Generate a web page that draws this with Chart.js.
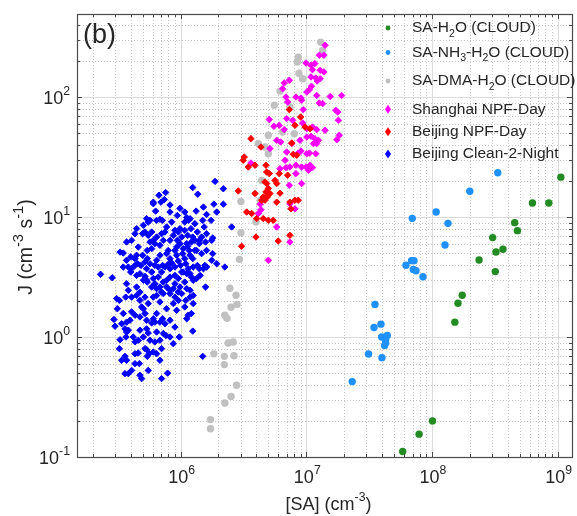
<!DOCTYPE html>
<html>
<head>
<meta charset="utf-8">
<script src="https://cdn.jsdelivr.net/npm/chart.js@4.4.0/dist/chart.umd.min.js"></script>
<style>
  body { margin: 0; background: #fff; }
  #wrap { width: 577px; height: 516px; }
</style>
</head>
<body>
<div id="wrap"><canvas id="chart" width="577" height="516"></canvas></div>
<script>
// values: [SA (cm-3), J (cm-3 s-1)]
const saH2O = [
  [1.06e9, 21.5], [6.3e8, 13.1], [8.5e8, 13.1], [4.55e8, 8.98], [4.78e8, 7.7], [3.04e8, 6.74],
  [3.23e8, 5.11], [3.67e8, 5.38], [2.37e8, 4.38], [3.19e8, 3.51], [1.74e8, 2.23], [1.61e8, 1.91],
  [1.52e8, 1.33], [1.01e8, 0.2], [7.9e7, 0.155], [5.85e7, 0.111]
];
const saNH3H2O = [
  [3.34e8, 23.4], [2.0e8, 16.4], [1.08e8, 11.0], [1.34e8, 8.86], [6.97e7, 9.75], [1.27e8, 5.84],
  [6.21e7, 3.96], [6.88e7, 4.33], [7.19e7, 4.33], [7.1e7, 3.65], [7.46e7, 3.57], [8.48e7, 3.18],
  [3.52e7, 1.87], [3.93e7, 1.28], [3.46e7, 1.2], [3.98e7, 1.0], [4.41e7, 1.03], [4.28e7, 0.944],
  [4.28e7, 0.89], [4.2e7, 0.848], [3.13e7, 0.722], [4.0e7, 0.673], [2.32e7, 0.425]
];
const saDMAH2O = [
  [1.30e7, 287], [1.35e7, 245], [8.63e6, 215], [8.48e6, 196], [8.75e6, 158], [9.36e6, 142],
  [6.18e6, 112], [5.56e6, 85.3], [7.41e6, 82.5], [6.49e6, 51.1], [8.03e6, 49.5], [4.99e6, 48],
  [4.15e6, 40.9], [4.69e6, 38.3], [4.99e6, 33.7], [4.42e6, 20.2], [3.02e6, 13.5], [4.33e6, 13.8],
  [3.98e6, 9.08], [3.02e6, 7.41], [2.94e6, 4.44], [2.47e6, 2.55], [2.76e6, 2.23], [2.81e6, 1.87],
  [2.52e6, 1.77], [2.25e6, 1.52], [2.34e6, 1.43], [2.39e6, 0.891], [2.62e6, 0.908], [1.84e6, 0.724],
  [2.23e6, 0.69], [2.66e6, 0.697], [2.23e6, 0.589], [2.79e6, 0.396], [2.52e6, 0.32], [2.25e6, 0.282],
  [1.73e6, 0.205], [1.73e6, 0.172]
];
const shanghaiNPF = [
  [1.41e7, 270], [1.38e7, 223], [1.27e7, 223], [9.95e6, 192], [1.09e7, 184], [1.17e7, 190],
  [1.12e7, 169], [1.29e7, 167], [1.38e7, 162], [1.09e7, 147], [1.19e7, 144], [1.29e7, 142],
  [1.22e7, 136], [7.33e6, 138], [6.68e6, 131], [6.49e6, 117], [1.10e7, 123], [1.06e7, 115],
  [1.01e7, 110], [8.28e6, 100], [9.08e6, 98.1], [6.90e6, 100], [7.11e6, 90.8], [1.21e7, 103],
  [1.55e7, 101], [1.91e7, 103], [1.27e7, 89.1], [1.35e7, 88.1], [1.72e7, 77.4], [1.78e7, 75.0],
  [1.80e7, 64.0], [9.18e6, 93.9], [9.46e6, 78.5], [7.80e6, 64.0], [6.98e6, 66.1], [5.08e6, 64.9],
  [5.53e6, 57.0], [6.10e6, 58.1], [6.68e6, 53.5], [9.36e6, 60.7], [1.01e7, 54.5], [1.12e7, 56.2],
  [1.21e7, 53.5], [1.41e7, 52.8], [1.09e7, 47.1], [1.17e7, 45.0], [1.14e7, 40.9], [1.21e7, 40.9],
  [1.25e7, 43.6], [1.75e7, 44.1], [1.83e7, 48.0], [1.01e7, 46.4], [5.82e6, 43.6], [6.25e6, 42.2],
  [8.91e6, 43.6], [5.14e6, 37.2], [7.66e6, 40.9], [3.63e6, 28.2], [6.98e6, 34.8], [8.63e6, 34.1],
  [9.08e6, 35.5], [1.01e7, 33.7], [1.06e7, 34.1], [1.19e7, 33.7], [6.78e6, 29.7], [7.41e6, 26.1],
  [8.28e6, 27.0], [9.18e6, 26.1], [6.90e6, 25.8], [9.95e6, 26.1], [1.07e7, 27.0], [1.04e7, 24.5],
  [1.12e7, 25.8], [6.18e6, 25.3], [8.28e6, 23.0], [9.18e6, 19.0], [7.33e6, 18.4], [8.13e6, 11.7],
  [7.41e6, 12.9], [4.36e6, 11.5], [4.29e6, 12.8], [4.15e6, 10.7], [5.82e6, 8.26], [7.41e6, 6.19],
  [4.99e6, 4.36]
];
const beijingNPF = [
  [7.33e6, 78.5], [9.02e6, 68.1], [8.13e6, 58.1], [9.77e6, 56.2], [1.07e7, 54.5], [3.63e6, 45.0],
  [4.36e6, 38.3], [7.66e6, 41.4], [7.88e6, 33.3], [3.21e6, 31.6], [3.15e6, 29.7], [3.46e6, 26.1],
  [3.91e6, 27.0], [4.78e6, 27.0], [4.84e6, 23.7], [5.08e6, 23.0], [4.69e6, 19.6], [4.84e6, 19.0],
  [5.64e6, 20.2], [5.82e6, 19.0], [6.10e6, 23.0], [7.11e6, 22.3], [8.40e6, 32.7], [2.88e6, 16.5],
  [4.99e6, 17.3], [4.78e6, 16.2], [4.55e6, 14.7], [4.90e6, 14.7], [5.14e6, 15.7], [6.18e6, 15.8],
  [5.82e6, 13.3], [3.91e6, 15.7], [4.42e6, 13.8], [4.69e6, 13.8], [3.36e6, 11.0], [3.68e6, 10.7],
  [4.03e6, 9.7], [4.55e6, 9.7], [4.99e6, 9.39], [5.46e6, 9.39], [7.41e6, 13.3], [8.13e6, 13.8],
  [7.55e6, 11.7], [8.63e6, 13.8], [3.98e6, 6.81], [5.98e6, 6.31], [7.41e6, 7.04], [3.06e6, 5.70]
];
const beijingClean = [
  [1.25e6, 17.6], [1.37e6, 15.5], [1.88e6, 19.8], [2.19e6, 17.2], [6.73e5, 15.2], [7.6e5, 16.0],
  [6.07e5, 13.3], [6.98e5, 13.3], [7.43e5, 14.0], [1.84e6, 12.8], [2.19e6, 12.8],
  [6.33e5, 11.2], [8.24e5, 11.0], [9.42e5, 10.3], [9.89e5, 11.8], [1.12e6, 9.89], [1.16e6, 9.38],
  [1.33e6, 11.2], [1.50e6, 9.38], [1.75e6, 9.38], [5.37e5, 9.69], [5.53e5, 9.08], [5.71e5, 9.38],
  [6.45e5, 9.38], [6.85e5, 9.57], [7.16e5, 9.38], [8.49e5, 9.08], [1.08e6, 9.08], [1.19e6, 9.69],
  [2.55e6, 8.26],
  [4.34e5, 7.26], [4.99e5, 7.26], [5.21e5, 7.5], [5.53e5, 7.03], [5.89e5, 7.5], [6.07e5, 6.39],
  [6.45e5, 6.81], [7.06e5, 7.26], [7.51e5, 7.5], [9.02e5, 7.74], [9.89e5, 8.0], [1.02e6, 6.81],
  [1.08e6, 7.74], [1.14e6, 7.03], [1.21e6, 8.0], [1.36e6, 7.5], [1.41e6, 6.39], [1.54e6, 8.26],
  [1.61e6, 7.26], [1.80e6, 6.68], [5.71e5, 6.19], [5.89e5, 5.45], [6.25e5, 6.0], [6.85e5, 5.81],
  [7.29e5, 6.39], [8.24e5, 6.39], [9.42e5, 6.39], [9.89e5, 6.0], [1.12e6, 6.0], [1.22e6, 6.19],
  [1.30e6, 6.39], [1.41e6, 6.0], [1.58e6, 6.19], [1.77e6, 6.39],
  [3.50e5, 5.01], [3.72e5, 4.36], [4.01e5, 4.65], [4.34e5, 4.50], [4.47e5, 4.80], [4.55e5, 4.08],
  [4.99e5, 4.80], [5.43e5, 5.27], [5.43e5, 4.50], [6.45e5, 4.36], [6.85e5, 4.80], [7.74e5, 4.95],
  [7.98e5, 5.27], [8.24e5, 4.50], [9.02e5, 5.27], [9.31e5, 4.80], [1.04e6, 4.95], [1.08e6, 4.50],
  [1.17e6, 5.27], [1.19e6, 4.80], [1.25e6, 4.50], [1.30e6, 5.27], [1.47e6, 4.95], [1.61e6, 3.83],
  [1.80e6, 4.95], [1.94e6, 4.08], [2.25e6, 3.83], [3.50e5, 3.83], [3.84e5, 3.83], [4.08e5, 3.71],
  [4.34e5, 3.95], [4.84e5, 3.95], [5.21e5, 4.22], [5.71e5, 4.08], [6.25e5, 3.95], [6.65e5, 3.83],
  [7.20e5, 3.95], [7.51e5, 3.83], [7.98e5, 4.04], [8.49e5, 4.14], [9.59e5, 4.30], [1.00e6, 3.95],
  [1.10e6, 4.08], [1.15e6, 3.71], [1.26e6, 3.83], [1.36e6, 3.95], [1.52e6, 3.71], [1.56e6, 3.95],
  [2.31e5, 3.33], [2.86e5, 3.12], [4.01e5, 3.48], [4.47e5, 3.26], [4.75e5, 3.37], [5.21e5, 3.20],
  [5.37e5, 2.97], [6.07e5, 3.07], [6.65e5, 3.16], [7.06e5, 3.48], [7.29e5, 2.87], [7.74e5, 2.97],
  [8.24e5, 3.16], [9.02e5, 3.26], [9.59e5, 3.07], [1.02e6, 3.48], [1.12e6, 3.37], [1.22e6, 3.16],
  [1.26e6, 2.97], [1.34e6, 3.07], [1.43e6, 3.26], [1.58e6, 2.61], [5.43e5, 2.87], [5.89e5, 2.61],
  [6.45e5, 2.53], [6.85e5, 2.61], [7.06e5, 2.37], [7.74e5, 2.61], [8.24e5, 2.45], [9.02e5, 2.78],
  [9.59e5, 2.37], [9.89e5, 2.61], [1.08e6, 2.87], [1.12e6, 2.53], [1.19e6, 2.45],
  [3.10e5, 2.09], [3.26e5, 2.02], [3.66e5, 2.15], [3.84e5, 2.45], [4.08e5, 2.15], [4.47e5, 2.22],
  [4.75e5, 2.02], [4.90e5, 1.78], [5.53e5, 1.90], [5.21e5, 2.15], [6.45e5, 2.22], [7.29e5, 2.30],
  [8.24e5, 2.30], [9.02e5, 2.15], [8.75e5, 1.90], [9.59e5, 2.02], [1.10e6, 2.02], [1.19e6, 2.15],
  [1.26e6, 2.22], [1.08e6, 1.78], [1.26e6, 1.90],
  [3.14e5, 1.72], [2.95e5, 1.40], [3.01e5, 1.23], [3.40e5, 1.29], [3.72e5, 1.33], [3.96e5, 1.38],
  [4.08e5, 1.62], [4.34e5, 1.52], [5.06e5, 1.72], [5.21e5, 1.57], [5.37e5, 1.38], [5.89e5, 1.31],
  [6.07e5, 1.42], [6.25e5, 1.33], [6.85e5, 1.33], [7.20e5, 1.42], [7.51e5, 1.29], [9.02e5, 1.21],
  [1.12e6, 1.42], [1.15e6, 1.52], [1.22e6, 1.57],
  [3.61e5, 1.17], [3.72e5, 1.10], [3.84e5, 1.14], [3.30e5, 0.95], [3.68e5, 1.00], [4.34e5, 0.91],
  [4.61e5, 0.94], [5.37e5, 1.17], [5.53e5, 1.08], [6.45e5, 1.10], [5.71e5, 0.94], [6.25e5, 0.91],
  [6.85e5, 0.94], [7.29e5, 1.07], [7.65e5, 1.03], [8.75e5, 0.88], [9.77e5, 1.00], [1.25e6, 1.12],
  [3.26e5, 0.80], [3.61e5, 0.69], [3.72e5, 0.64], [4.34e5, 0.60], [4.70e5, 0.60], [4.61e5, 0.736],
  [5.21e5, 0.80], [5.37e5, 0.785], [5.64e5, 0.726], [6.07e5, 0.75], [6.45e5, 0.726], [7.06e5, 0.80],
  [5.43e5, 0.69], [3.61e5, 0.495], [3.84e5, 0.495], [4.90e5, 0.45], [4.75e5, 0.48], [7.06e5, 0.45],
  [7.89e5, 0.50], [1.50e6, 0.69],
  [7.74e5, 8.26], [8.75e5, 7.03], [9.59e5, 7.5], [1.25e6, 6.81], [1.30e6, 8.8], [1.47e6, 6.81],
  [9.31e5, 5.62], [1.05e6, 5.45], [1.14e6, 5.7], [1.34e6, 5.27], [1.61e6, 5.27], [8.24e5, 3.71],
  [9.02e5, 3.83], [1.05e6, 3.48], [1.19e6, 3.37], [1.41e6, 3.71], [1.77e6, 4.36], [5.37e5, 3.71],
  [5.89e5, 3.48], [5.06e5, 2.97], [6.25e5, 2.78], [8.75e5, 2.53], [1.02e6, 2.30], [4.47e5, 2.61],
  [3.72e5, 2.78], [4.75e5, 2.37], [6.07e5, 2.15], [6.85e5, 1.96], [7.74e5, 1.72], [9.31e5, 1.67],
  [6.45e5, 1.57], [4.75e5, 1.47], [3.50e5, 1.57], [8.24e5, 1.38], [4.75e5, 1.14], [4.2e5, 1.00],
  [5.06e5, 1.00], [8.24e5, 1.00], [4.34e5, 0.726], [6.85e5, 0.64], [3.40e5, 0.64], [4.08e5, 0.527],
  [5.53e5, 0.527], [6.07e5, 12.9], [8.24e5, 12.6], [1.52e6, 12.1], [1.61e6, 10.5], [1.94e6, 11.0],
  [1.08e6, 11.0], [5.06e5, 8.53], [4.47e5, 8.0], [4.08e5, 6.39], [4.61e5, 5.62], [3.72e5, 6.19],
  [3.30e5, 5.1]
];

const seriesLabels = [
  [['SA-H', 0], ['2', -1], ['O (CLOUD)', 0]],
  [['SA-NH', 0], ['3', -1], ['-H', 0], ['2', -1], ['O (CLOUD)', 0]],
  [['SA-DMA-H', 0], ['2', -1], ['O (CLOUD)', 0]],
  [['Shanghai NPF-Day', 0]],
  [['Beijing NPF-Day', 0]],
  [['Beijing Clean-2-Night', 0]]
];
const seriesColors = ['#228b22', '#1e90ff', '#c0c0c0', '#ff00ff', '#ff0000', '#0000ff'];
const seriesShapes = ['circle', 'circle', 'circle', 'rectRot', 'rectRot', 'rectRot'];

const xDecades = [5, 6, 7, 8, 9];
const yDecades = [-1, 0, 1, 2];
const xTickExp = [6, 7, 8, 9];
const yTickExp = [-1, 0, 1, 2];

const FONT = '"Liberation Sans", Arial, Helvetica, sans-serif';
const TXT = '#262626';

// draws text made of pieces: [text, 0 normal | 1 superscript | -1 subscript]
function drawRich(ctx, parts, x, y, size, align, supScale) {
  const ss = supScale || 0.68;
  let w = 0;
  parts.forEach(p => {
    ctx.font = (p[1] ? size * ss : size) + 'px ' + FONT;
    w += ctx.measureText(p[0]).width;
  });
  let cx = align === 'center' ? x - w / 2 : (align === 'right' ? x - w : x);
  ctx.textAlign = 'left';
  ctx.textBaseline = 'middle';
  ctx.fillStyle = TXT;
  parts.forEach(p => {
    const s = p[1] ? size * ss : size;
    ctx.font = s + 'px ' + FONT;
    const dy = p[1] === 1 ? -size * 0.42 : (p[1] === -1 ? size * 0.38 : 0);
    ctx.fillText(p[0], cx, y + dy);
    cx += ctx.measureText(p[0]).width;
  });
}

function marker(ctx, shape, x, y, r, color) {
  ctx.fillStyle = color;
  ctx.beginPath();
  if (shape === 'circle') {
    ctx.arc(x, y, r, 0, Math.PI * 2);
  } else {
    ctx.moveTo(x, y - r * 1.25);
    ctx.lineTo(x + r * 0.85, y);
    ctx.lineTo(x, y + r * 1.25);
    ctx.lineTo(x - r * 0.85, y);
    ctx.closePath();
  }
  ctx.fill();
}

const axesPlugin = {
  id: 'matlabAxes',
  beforeDatasetsDraw(chart) {
    const {ctx, chartArea: a, scales: {x, y}} = chart;
    ctx.save();
    ctx.lineWidth = 1;
    // minor grid, dotted
    ctx.strokeStyle = '#c6c6c6';
    ctx.setLineDash([1, 2]);
    ctx.beginPath();
    xDecades.forEach(e => {
      for (let k = 2; k <= 9; k++) {
        const v = k * Math.pow(10, e);
        if (v <= x.min || v >= x.max) continue;
        const px = Math.round(x.getPixelForValue(v)) + 0.5;
        ctx.moveTo(px, a.top); ctx.lineTo(px, a.bottom);
      }
    });
    yDecades.forEach(e => {
      for (let k = 2; k <= 9; k++) {
        const v = k * Math.pow(10, e);
        if (v <= y.min || v >= y.max) continue;
        const py = Math.round(y.getPixelForValue(v)) + 0.5;
        ctx.moveTo(a.left, py); ctx.lineTo(a.right, py);
      }
    });
    ctx.stroke();
    // major grid, solid
    ctx.setLineDash([]);
    ctx.strokeStyle = '#dcdcdc';
    ctx.beginPath();
    xDecades.forEach(e => {
      const v = Math.pow(10, e);
      if (v <= x.min || v >= x.max) return;
      const px = Math.round(x.getPixelForValue(v)) + 0.5;
      ctx.moveTo(px, a.top); ctx.lineTo(px, a.bottom);
    });
    yDecades.forEach(e => {
      const v = Math.pow(10, e);
      if (v <= y.min || v >= y.max) return;
      const py = Math.round(y.getPixelForValue(v)) + 0.5;
      ctx.moveTo(a.left, py); ctx.lineTo(a.right, py);
    });
    ctx.stroke();
    ctx.restore();
  },
  afterDraw(chart) {
    const {ctx, chartArea: a, scales: {x, y}} = chart;
    ctx.save();
    // ticks on all four sides, pointing in
    ctx.strokeStyle = '#4a4a4a';
    ctx.lineWidth = 1;
    ctx.beginPath();
    xDecades.forEach(e => {
      for (let k = 1; k <= 9; k++) {
        const v = k * Math.pow(10, e);
        if (v <= x.min || v >= x.max) continue;
        const len = k === 1 ? 5 : 3;
        const px = Math.round(x.getPixelForValue(v)) + 0.5;
        ctx.moveTo(px, a.bottom); ctx.lineTo(px, a.bottom - len);
        ctx.moveTo(px, a.top); ctx.lineTo(px, a.top + len);
      }
    });
    yDecades.forEach(e => {
      for (let k = 1; k <= 9; k++) {
        const v = k * Math.pow(10, e);
        if (v <= y.min || v >= y.max) continue;
        const len = k === 1 ? 5 : 3;
        const py = Math.round(y.getPixelForValue(v)) + 0.5;
        ctx.moveTo(a.left, py); ctx.lineTo(a.left + len, py);
        ctx.moveTo(a.right, py); ctx.lineTo(a.right - len, py);
      }
    });
    ctx.stroke();
    // box
    ctx.lineWidth = 1.2;
    ctx.strokeRect(Math.round(a.left) + 0.5, Math.round(a.top) + 0.5,
      Math.round(a.right - a.left), Math.round(a.bottom - a.top));

    // tick labels
    xTickExp.forEach(e => {
      const px = x.getPixelForValue(Math.pow(10, e));
      drawRich(ctx, [['10', 0], [String(e), 1]], px + 1, a.bottom + 21, 18, 'center');
    });
    yTickExp.forEach(e => {
      const py = y.getPixelForValue(Math.pow(10, e));
      drawRich(ctx, [['10', 0], [String(e), 1]], a.left - 7, py + 2, 18, 'right');
    });

    // axis titles
    drawRich(ctx, [['[SA] (cm', 0], ['-3', 1], [')', 0]], (a.left + a.right) / 2 + 4, a.bottom + 48, 18, 'center');
    ctx.save();
    ctx.translate(27, 247);
    ctx.rotate(-Math.PI / 2);
    drawRich(ctx, [['J (cm', 0], ['-3', 1], [' s', 0], ['-1', 1], [')', 0]], 0, 0, 19.5, 'center', 0.75);
    ctx.restore();

    // panel tag
    drawRich(ctx, [['(b)', 0]], a.left + 6, a.top + 22, 27, 'left');

    // legend
    const rowY = [28, 52.5, 81, 109.3, 131.7, 154];
    seriesLabels.forEach((parts, i) => {
      const r = seriesShapes[i] === 'circle' ? 2.4 : 3.6;
      marker(ctx, seriesShapes[i], 388, rowY[i], r, seriesColors[i]);
      drawRich(ctx, parts, 412, rowY[i], 15.5, 'left');
    });
    ctx.restore();
  }
};

function makeSet(points, i) {
  const circle = seriesShapes[i] === 'circle';
  return {
    data: points.map(p => ({x: p[0], y: p[1]})),
    pointStyle: seriesShapes[i],
    pointRadius: circle ? 3.7 : 3.2,
    pointBorderWidth: circle ? 0 : 1,
    backgroundColor: seriesColors[i],
    borderColor: seriesColors[i],
    order: 6 - i
  };
}

const ctx = document.getElementById('chart').getContext('2d');
const config = {
  type: 'scatter',
  data: {
    datasets: [saH2O, saNH3H2O, saDMAH2O, shanghaiNPF, beijingNPF, beijingClean].map(makeSet)
  },
  options: {
    responsive: false,
    animation: false,
    devicePixelRatio: 1,
    layout: { padding: { left: 77, right: 5, top: 14, bottom: 59 } },
    plugins: { legend: { display: false }, tooltip: { enabled: false } },
    scales: {
      x: { type: 'logarithmic', display: false, min: 1.5e5, max: 1.3e9 },
      y: { type: 'logarithmic', display: false, min: 0.1, max: 492 }
    }
  },
  plugins: [axesPlugin]
};
new Chart(ctx, config);
</script>
</body>
</html>
